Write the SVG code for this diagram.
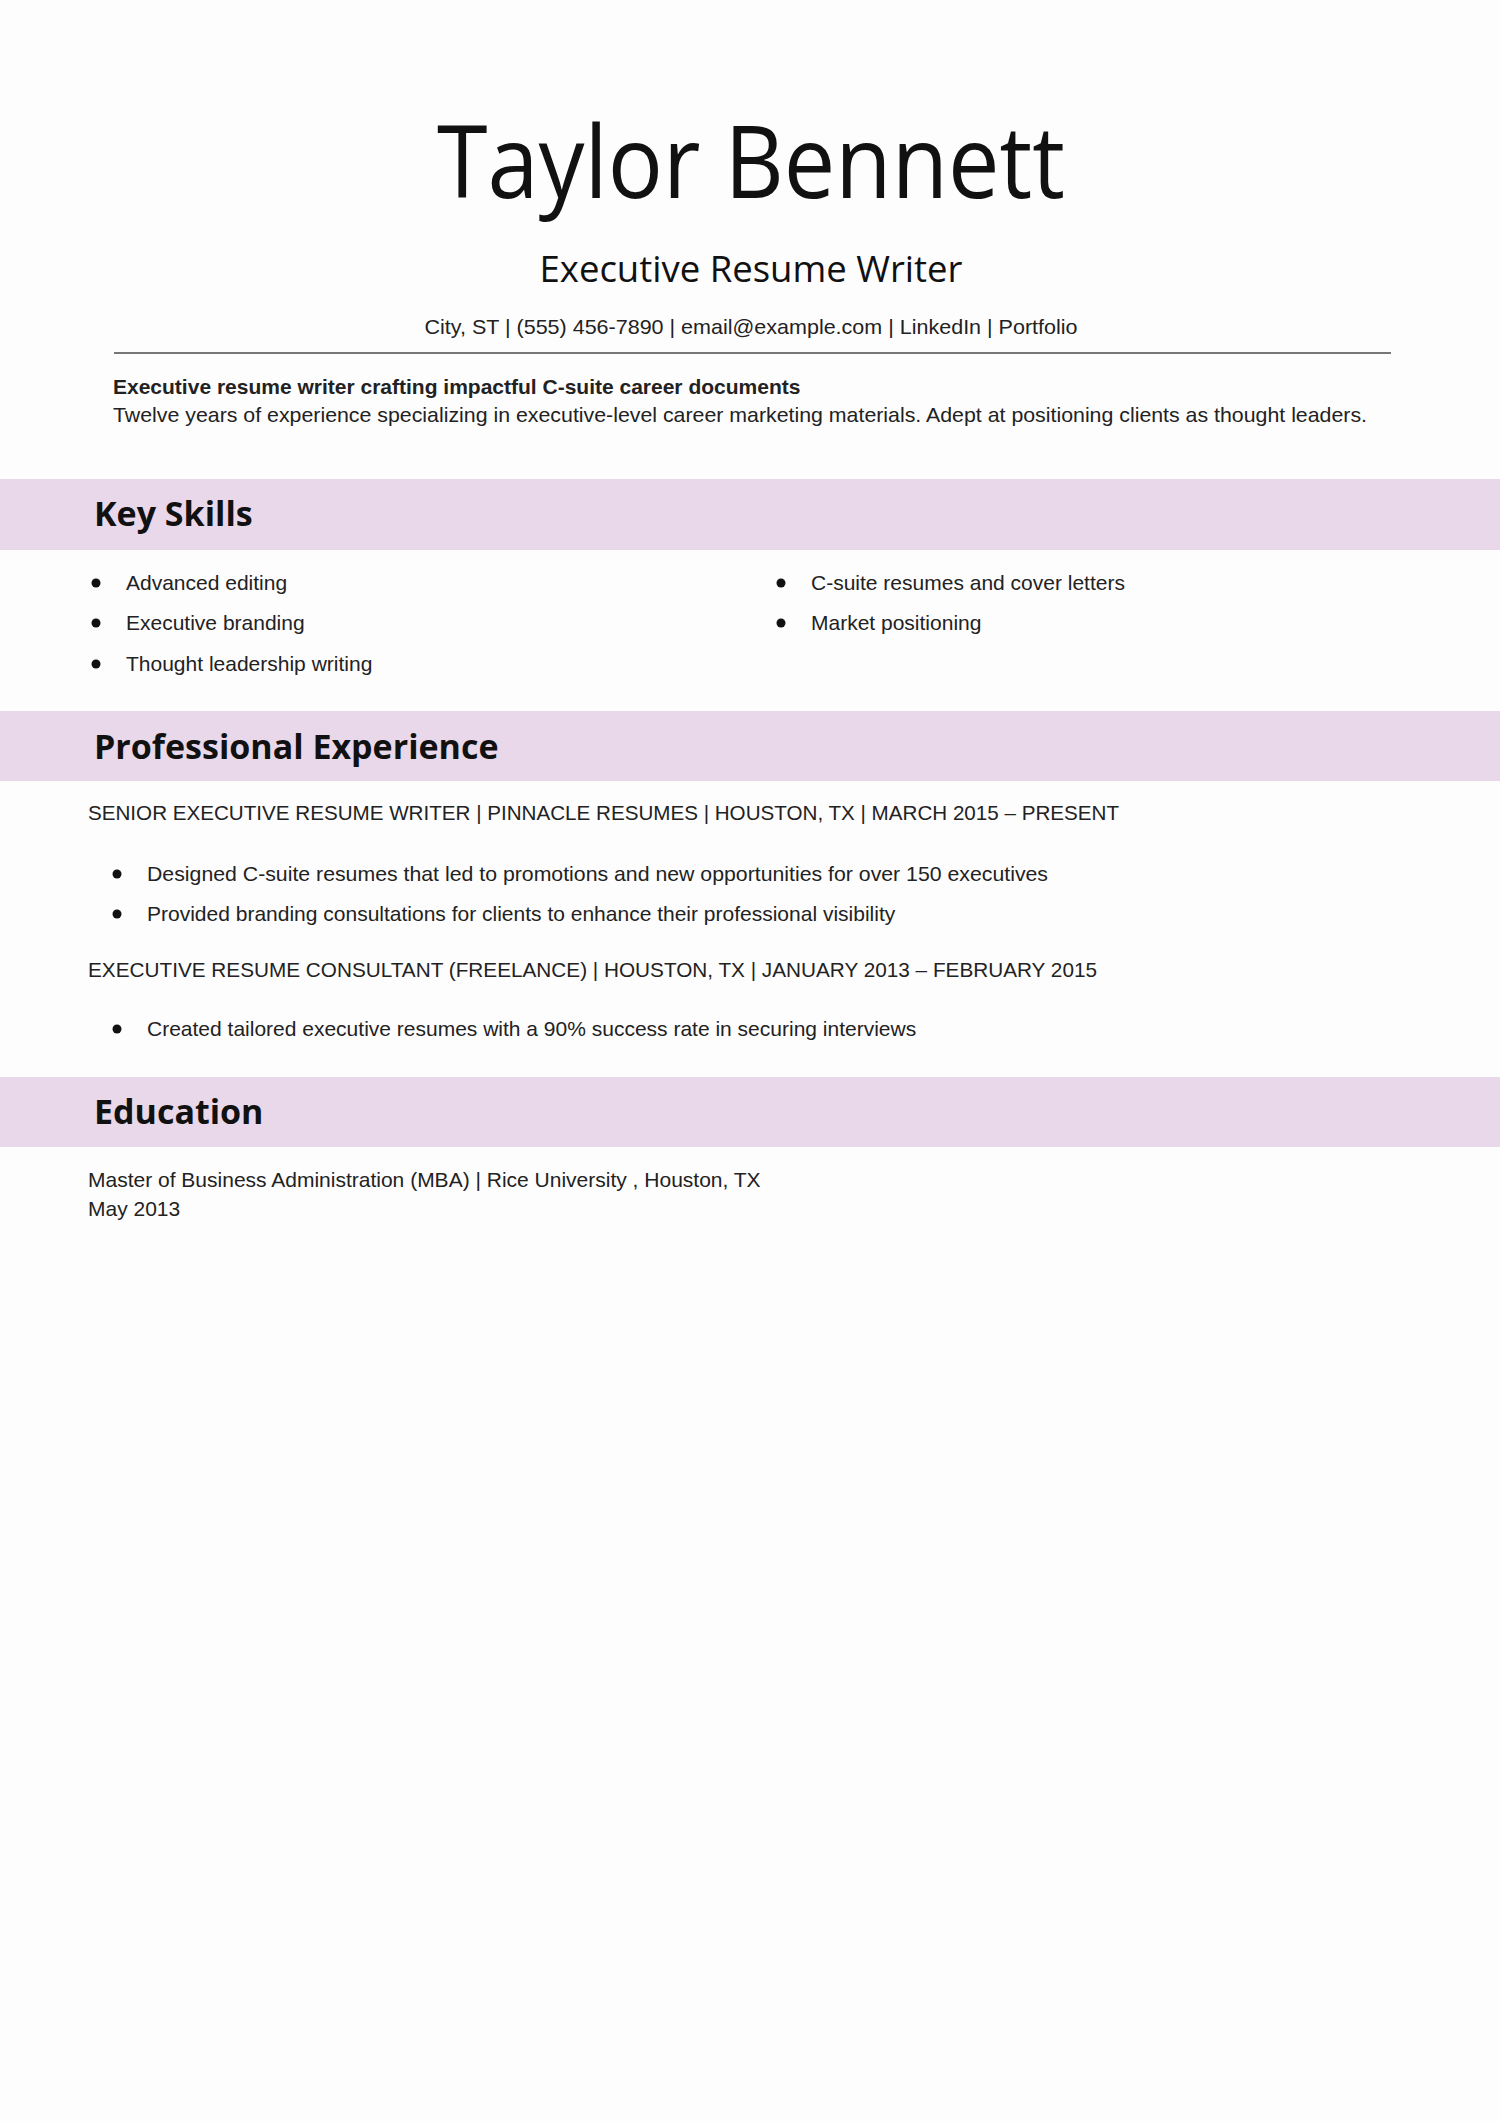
<svg xmlns="http://www.w3.org/2000/svg" width="1500" height="2121" viewBox="0 0 1500 2121">
<style>
.b{font-family:"Liberation Sans",Arial,sans-serif;font-size:21px;fill:#222}
.h{font-family:"Open Sans","Noto Sans",sans-serif;font-weight:bold;font-size:34px;fill:#111}
.band{fill:#e8d8ea}
</style>
<rect width="1500" height="2121" fill="#fefdfe"/>
<g id="header">
<text x="751" y="198" text-anchor="middle" font-family="'Open Sans','Noto Sans',sans-serif" font-size="100" fill="#111" textLength="628" lengthAdjust="spacingAndGlyphs">Taylor Bennett</text>
<text x="751" y="282" text-anchor="middle" font-family="'Open Sans','Noto Sans',sans-serif" font-size="37" fill="#111" textLength="423" lengthAdjust="spacingAndGlyphs">Executive Resume Writer</text>
<text x="751" y="334" text-anchor="middle" class="b" textLength="653" lengthAdjust="spacingAndGlyphs">City, ST | (555) 456-7890 | email@example.com | LinkedIn | Portfolio</text>
<line x1="114" y1="353" x2="1391" y2="353" stroke="#777" stroke-width="2"/>
<text x="113" y="394" class="b" font-weight="bold" fill="#000">Executive resume writer crafting impactful C-suite career documents</text>
<text x="113" y="422" class="b" textLength="1254" lengthAdjust="spacingAndGlyphs">Twelve years of experience specializing in executive-level career marketing materials. Adept at positioning clients as thought leaders.</text>
</g>
<g id="skills">
<rect class="band" x="0" y="479" width="1500" height="71"/>
<text x="94" y="526" class="h">Key Skills</text>
<g fill="#111"><circle cx="96" cy="583" r="4.5"/><circle cx="96" cy="623" r="4.5"/><circle cx="96" cy="664" r="4.5"/><circle cx="781" cy="583" r="4.5"/><circle cx="781" cy="623" r="4.5"/></g>
<text x="126" y="590" class="b">Advanced editing</text>
<text x="126" y="630" class="b">Executive branding</text>
<text x="126" y="671" class="b">Thought leadership writing</text>
<text x="811" y="590" class="b">C-suite resumes and cover letters</text>
<text x="811" y="630" class="b">Market positioning</text>
</g>
<g id="experience">
<rect class="band" x="0" y="711" width="1500" height="70"/>
<text x="94" y="759" class="h">Professional Experience</text>
<text x="88" y="820" class="b" textLength="1031" lengthAdjust="spacingAndGlyphs">SENIOR EXECUTIVE RESUME WRITER | PINNACLE RESUMES | HOUSTON, TX | MARCH 2015 – PRESENT</text>
<g fill="#111"><circle cx="117" cy="874" r="4.5"/><circle cx="117" cy="914" r="4.5"/><circle cx="117" cy="1029" r="4.5"/></g>
<text x="147" y="881" class="b" textLength="901" lengthAdjust="spacingAndGlyphs">Designed C-suite resumes that led to promotions and new opportunities for over 150 executives</text>
<text x="147" y="921" class="b">Provided branding consultations for clients to enhance their professional visibility</text>
<text x="88" y="977" class="b" textLength="1009" lengthAdjust="spacingAndGlyphs">EXECUTIVE RESUME CONSULTANT (FREELANCE) | HOUSTON, TX  | JANUARY 2013 – FEBRUARY 2015</text>
<text x="147" y="1036" class="b">Created tailored executive resumes with a 90% success rate in securing interviews</text>
</g>
<g id="education">
<rect class="band" x="0" y="1077" width="1500" height="70"/>
<text x="94" y="1124" class="h">Education</text>
<text x="88" y="1187" class="b">Master of Business Administration (MBA) | Rice University , Houston, TX</text>
<text x="88" y="1216" class="b">May 2013</text>
</g>
</svg>
